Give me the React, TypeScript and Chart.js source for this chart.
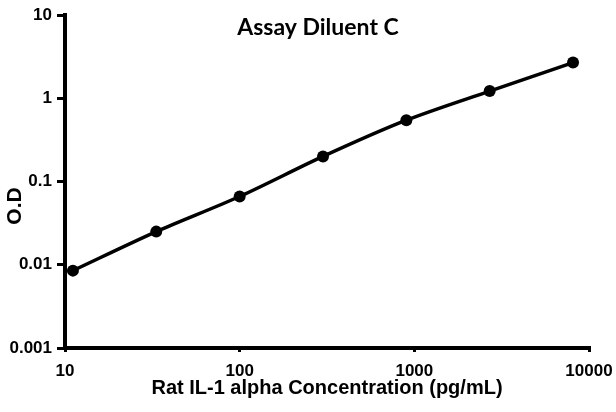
import React, { useEffect, useRef } from "react";
import { Chart, registerables } from "chart.js";

Chart.register(...registerables);

const chartTitle = "Assay Diluent C";
const xAxisTitle = "Rat IL-1 alpha Concentration (pg/mL)";
const yAxisTitle = "O.D";
const concentrations = [11.1, 33.3, 100, 300, 900, 2700, 8100];
const odValues = [0.0085, 0.025, 0.066, 0.2, 0.545, 1.22, 2.68];
const xTicks = [10, 100, 1000, 10000];
const yTicks = [0.001, 0.01, 0.1, 1, 10];

const tickFont = { family: "'Liberation Sans', Arial, sans-serif", weight: "bold" as const, size: 17 };

const titlesPlugin = {
  id: "customTitles",
  afterDraw(chart: any) {
    const ctx = chart.ctx;
    ctx.save();
    ctx.fillStyle = "#000";
    ctx.textAlign = "center";
    ctx.textBaseline = "middle";
    ctx.font = "bold 23px Lato, 'Open Sans', sans-serif";
    ctx.fillText(chartTitle, 318, 28);
    ctx.translate(15, 206);
    ctx.rotate(-Math.PI / 2);
    ctx.font = "bold 21px 'Liberation Sans', Arial, sans-serif";
    ctx.fillText(yAxisTitle, 0, 0);
    ctx.restore();
  },
};

export default function App() {
  const ref = useRef<HTMLCanvasElement | null>(null);
  useEffect(() => {
    if (!ref.current) return;
    const chart = new Chart(ref.current, {
      type: "line",
      data: {
        datasets: [
          {
            data: concentrations.map((c, i) => ({ x: c, y: odValues[i] })),
            borderColor: "#000",
            backgroundColor: "#000",
            borderWidth: 3.5,
            pointRadius: 6,
            pointBorderWidth: 0,
            pointBackgroundColor: "#000",
            pointBorderColor: "#000",
            tension: 0.3,
          },
        ],
      },
      options: {
        animation: false,
        responsive: false,
        layout: { padding: { left: 0, right: 27, top: 15, bottom: 0 } },
        plugins: { legend: { display: false }, tooltip: { enabled: false }, title: { display: false } },
        scales: {
          x: {
            type: "logarithmic",
            min: 10,
            max: 10000,
            afterBuildTicks: (axis: any) => {
              axis.ticks = xTicks.map((v) => ({ value: v }));
            },
            afterFit: (axis: any) => {
              axis.height = 64;
              axis.paddingLeft = 0;
              axis.paddingRight = 0;
            },
            ticks: {
              color: "#000",
              font: tickFont,
              padding: 9,
              maxRotation: 0,
              autoSkip: false,
              callback: (v: any) => String(v),
            },
            grid: { drawOnChartArea: false, drawTicks: true, tickLength: 4, tickColor: "#000", tickWidth: 3, lineWidth: 3 },
            border: { color: "#000", width: 4 },
            title: {
              display: true,
              text: xAxisTitle,
              color: "#000",
              font: { family: "'Liberation Sans', Arial, sans-serif", weight: "bold", size: 20 },
              padding: { top: 0, bottom: 12 },
            },
          },
          y: {
            type: "logarithmic",
            min: 0.001,
            max: 10,
            afterBuildTicks: (axis: any) => {
              axis.ticks = yTicks.map((v) => ({ value: v }));
            },
            afterFit: (axis: any) => {
              axis.width = 65;
              axis.paddingTop = 0;
              axis.paddingBottom = 0;
            },
            ticks: {
              color: "#000",
              font: tickFont,
              padding: 5,
              autoSkip: false,
              callback: (v: any) => String(v),
            },
            grid: { drawOnChartArea: false, drawTicks: true, tickLength: 8, tickColor: "#000", tickWidth: 3, lineWidth: 3 },
            border: { color: "#000", width: 4 },
          },
        },
      },
      plugins: [titlesPlugin],
    } as any);
    return () => chart.destroy();
  }, []);
  return (
    <div style={{ position: "absolute", left: 0, top: 0, width: 616, height: 412, background: "#fff" }}>
      <canvas ref={ref} width={616} height={412} style={{ width: 616, height: 412, display: "block" }} />
    </div>
  );
}
